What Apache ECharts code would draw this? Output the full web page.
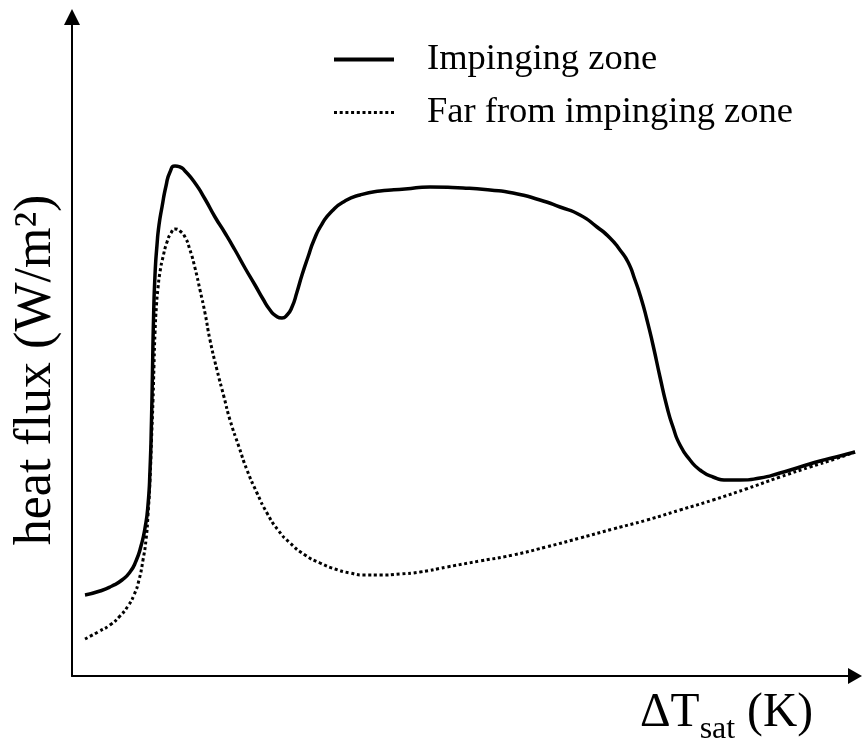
<!DOCTYPE html>
<html>
<head>
<meta charset="utf-8">
<script src="https://cdn.jsdelivr.net/npm/echarts@6/dist/echarts.min.js"></script>
<style>
html,body{margin:0;padding:0;background:#fff;}
#chart{width:862px;height:751px;}
</style>
</head>
<body>
<div id="chart"></div>
<script>
// Qualitative boiling curve (arbitrary units)
const seriesNames = ['Impinging zone', 'Far from impinging zone'];

const impingingX = [1.3, 2.8, 4.0, 5.0, 5.8, 6.4, 6.9, 7.3, 7.6, 7.8, 7.95, 8.05, 8.15, 8.3, 8.5, 8.7, 9.0, 9.4, 9.8, 10.3, 10.8, 11.3, 12.3, 13.3, 14.3, 15.3, 16.3, 17.3, 18.3, 19.1, 19.8, 20.4, 21.0, 21.5, 22.0, 22.5, 23.0, 23.6, 24.2, 25.0, 26.0, 27.3, 28.8, 30.8, 33.3, 35.8, 39.1, 41.8, 44.1, 46.8, 48.8, 50.8, 52.5, 53.8, 54.8, 55.6, 56.3, 56.9, 57.5, 58.1, 58.8, 59.5, 60.1, 60.8, 61.8, 62.8, 64.1, 65.5, 66.8, 68.8, 70.8, 72.8, 74.8, 76.8, 78.3];
const impingingY = [8.1, 8.5, 9.0, 9.6, 10.4, 11.5, 13.0, 14.8, 17.1, 20.6, 25.6, 30.6, 35.6, 40.1, 43.1, 45.1, 46.9, 49.0, 50.4, 51.0, 50.9, 50.5, 49.3, 47.7, 45.9, 44.3, 42.6, 40.8, 39.1, 37.7, 36.6, 36.0, 35.8, 36.1, 36.9, 38.4, 40.1, 41.9, 43.6, 45.2, 46.5, 47.5, 48.1, 48.5, 48.7, 48.9, 48.8, 48.6, 48.3, 47.6, 46.9, 46.1, 44.9, 43.8, 42.6, 41.4, 39.6, 37.8, 35.6, 33.1, 29.9, 26.9, 24.9, 23.1, 21.6, 20.6, 19.9, 19.6, 19.6, 19.8, 20.3, 20.9, 21.5, 22.0, 22.4];

const farX = [1.3, 2.6, 3.8, 4.8, 5.6, 6.2, 6.7, 7.1, 7.4, 7.6, 7.8, 7.95, 8.1, 8.2, 8.3, 8.45, 8.6, 8.8, 9.1, 9.5, 9.9, 10.3, 10.8, 11.3, 11.8, 12.3, 12.8, 13.3, 13.8, 14.5, 15.2, 15.8, 16.7, 17.5, 18.5, 19.5, 20.6, 21.8, 23.3, 24.8, 26.3, 27.8, 29.3, 30.8, 32.8, 34.8, 37.5, 40.8, 44.1, 47.4, 50.8, 54.1, 57.5, 60.8, 64.1, 67.4, 70.8, 73.8, 76.3, 78.3];
const farY = [3.7, 4.4, 5.1, 6.0, 7.0, 8.1, 9.6, 11.6, 13.6, 16.1, 19.6, 23.6, 27.6, 31.1, 34.3, 37.1, 38.8, 40.4, 41.9, 43.4, 44.3, 44.7, 44.5, 43.9, 42.6, 40.8, 38.6, 36.3, 33.6, 30.6, 27.9, 25.6, 22.9, 20.6, 18.3, 16.3, 14.6, 13.3, 12.1, 11.3, 10.7, 10.3, 10.1, 10.1, 10.2, 10.4, 10.9, 11.5, 12.1, 12.9, 13.8, 14.7, 15.6, 16.6, 17.6, 18.7, 19.9, 20.9, 21.7, 22.4];

const xAxisName = ['ΔT', 'sat', ' (K)'];
const yAxisName = 'heat flux (W/m²)';

const pair = (xs, ys) => xs.map((x, i) => [x, ys[i]]);

const serif = 'Liberation Serif';
const chart = echarts.init(document.getElementById('chart'), null, {renderer: 'canvas'});
chart.setOption({
  animation: false,
  backgroundColor: '#fff',
  grid: {left: 72, right: 7, top: 17, bottom: 75, containLabel: false, outerBoundsMode: 'none'},
  legend: {
    orient: 'vertical',
    left: 327,
    top: 36,
    itemWidth: 60,
    itemHeight: 20,
    itemGap: 16,
    itemStyle: {opacity: 0},
    textStyle: {fontFamily: serif, fontSize: 36.5, lineHeight: 36, color: '#000', padding: [0, 0, 0, 28]},
    data: [
      {name: seriesNames[0], lineStyle: {width: 4, color: '#000'}},
      {name: seriesNames[1], lineStyle: {width: 3, color: '#000', type: [3, 2.7]}}
    ]
  },
  xAxis: {
    type: 'value', min: 0, max: 78.3,
    axisLine: {lineStyle: {color: '#000', width: 2}, symbol: ['none', 'triangle'], symbolSize: [16, 14]},
    axisTick: {show: false}, axisLabel: {show: false}, splitLine: {show: false},
    name: '{a|' + xAxisName[0] + '}{b|' + xAxisName[1] + '}{a|' + xAxisName[2] + '}',
    nameLocation: 'end',
    nameGap: -42,
    nameTextStyle: {
      align: 'right', verticalAlign: 'top', padding: [14, 0, 0, 0],
      rich: {
        a: {fontFamily: serif, fontSize: 47.5, lineHeight: 56, color: '#000', verticalAlign: 'top'},
        b: {fontFamily: serif, fontSize: 32, lineHeight: 30, color: '#000', verticalAlign: 'bottom', padding: [34, 0, 0, 0]}
      }
    }
  },
  yAxis: {
    type: 'value', min: 0, max: 65.9,
    axisLine: {lineStyle: {color: '#000', width: 2}, symbol: ['none', 'triangle'], symbolSize: [16, 16]},
    axisTick: {show: false}, axisLabel: {show: false}, splitLine: {show: false},
    name: yAxisName,
    nameLocation: 'middle',
    nameGap: 10,
    nameRotate: 90,
    nameTextStyle: {fontFamily: serif, fontSize: 52, color: '#000', padding: [0, 47, 0, 0]}
  },
  series: [
    {
      name: seriesNames[0], type: 'line', smooth: 0.6, symbol: 'none',
      lineStyle: {color: '#000', width: 3.5},
      itemStyle: {color: '#000'},
      data: pair(impingingX, impingingY)
    },
    {
      name: seriesNames[1], type: 'line', smooth: 0.6, symbol: 'none',
      lineStyle: {color: '#000', width: 3, type: [3, 2.7], cap: 'butt'},
      itemStyle: {color: '#000'},
      data: pair(farX, farY)
    }
  ]
});
</script>
</body>
</html>
